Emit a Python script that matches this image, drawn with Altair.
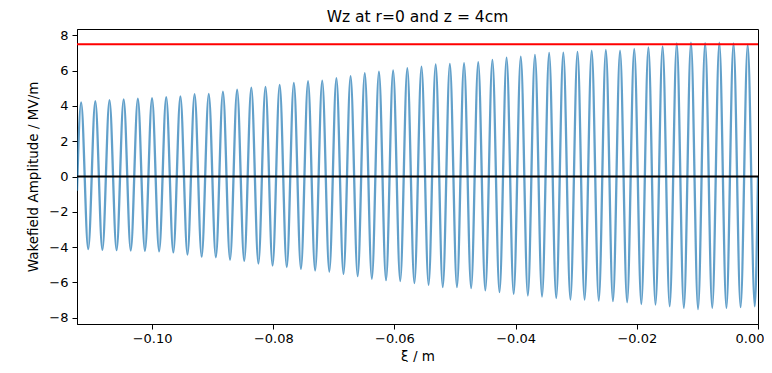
import altair as alt
import pandas as pd

# ---- data ----
# amplitude of each wakefield maximum (MV/m), left to right
peaks = [4.20, 4.26, 4.32, 4.37, 4.40, 4.43, 4.49, 4.53, 4.66, 4.68, 4.80, 4.91,
         5.03, 5.07, 5.19, 5.30, 5.40, 5.43, 5.57, 5.68, 5.85, 5.94, 6.00, 6.13,
         6.22, 6.34, 6.37, 6.41, 6.47, 6.60, 6.73, 6.79, 6.88, 6.99, 7.01, 7.05,
         7.12, 7.16, 7.12, 7.22, 7.31, 7.37, 7.53, 7.58, 7.55, 7.58, 7.53, 7.47]
# amplitude of each wakefield minimum (MV/m), left to right
troughs = [-4.11, -4.15, -4.17, -4.19, -4.21, -4.24, -4.30, -4.42, -4.54, -4.57,
           -4.71, -4.78, -4.93, -5.04, -5.13, -5.23, -5.32, -5.38, -5.51, -5.64,
           -5.79, -5.87, -5.92, -6.04, -6.13, -6.26, -6.26, -6.32, -6.45, -6.55,
           -6.64, -6.74, -6.80, -6.88, -6.97, -6.97, -7.03, -7.06, -7.12, -7.22,
           -7.25, -7.35, -7.44, -7.50, -7.44, -7.44, -7.40, -7.35]
xi_first_peak = -0.11172   # position of first maximum (m)
xi_spacing = 0.0023408     # distance between successive maxima (m)
xi_start, w_start = -0.1124, -0.8
xi_end, w_end = 0.0, 0.0
red_level = 7.49
zero_level = 0.0
x_ticks = [-0.10, -0.08, -0.06, -0.04, -0.02, 0.0]
y_ticks = [-8, -6, -4, -2, 0, 2, 4, 6, 8]

# ---- build table ----
xs, ws = [xi_start], [w_start]
for i, (p, t) in enumerate(zip(peaks, troughs)):
    xp = xi_first_peak + i * xi_spacing
    xs += [xp, xp + xi_spacing / 2]
    ws += [p, t]
xs.append(xi_end)
ws.append(w_end)
df = pd.DataFrame({"xi": xs, "w": ws})

FONT = "DejaVu Sans"
xscale = alt.Scale(domain=[-0.1124, 0.0], nice=False, zero=False)
yscale = alt.Scale(domain=[-8.35, 8.35], nice=False, zero=False)


def yenc():
    return alt.Y("w:Q", scale=yscale, title="Wakefield Amplitude / MV/m",
                 axis=alt.Axis(values=y_ticks,
                               labelExpr="replace(format(datum.value, 'd'), '-', '−')",
                               labelOverlap=False, labelFlush=False,
                               labelPadding=4, titlePadding=8))


line = alt.Chart(df).mark_line(
    color="#1f77b4", opacity=0.7, strokeWidth=2.3, interpolate="monotone", clip=True
).encode(
    x=alt.X("xi:Q", scale=xscale, title="ξ / m",
            axis=alt.Axis(values=x_ticks,
                          labelExpr="replace(format(datum.value, '.2f'), '-', '−')",
                          labelFlush=1, labelFlushOffset=6, labelOverlap=False,
                          labelPadding=3, titlePadding=4)),
    y=yenc(),
)

red = alt.Chart(pd.DataFrame({"w": [red_level]})).mark_rule(
    color="red", strokeWidth=2
).encode(y=yenc())

zero = alt.Chart(pd.DataFrame({"w": [zero_level]})).mark_rule(
    color="black", strokeWidth=2
).encode(y=yenc())

chart = alt.layer(line, red, zero).properties(
    width=681, height=295,
    autosize="none",
    padding={"left": 69, "top": 21, "right": 6, "bottom": 38},
    title=alt.Title("Wz at r=0 and z = 4cm", font=FONT, fontSize=15.5,
                    fontWeight="normal", color="black", offset=4),
).configure_view(
    stroke="black", strokeWidth=1
).configure_axis(
    labelFont=FONT, titleFont=FONT, labelFontSize=13, titleFontSize=13.5,
    titleFontWeight="normal", labelColor="black", titleColor="black",
    domainColor="black", tickColor="black", tickSize=5, grid=False,
)

chart.save("out.html", embed_options={"renderer": "svg", "actions": False})
